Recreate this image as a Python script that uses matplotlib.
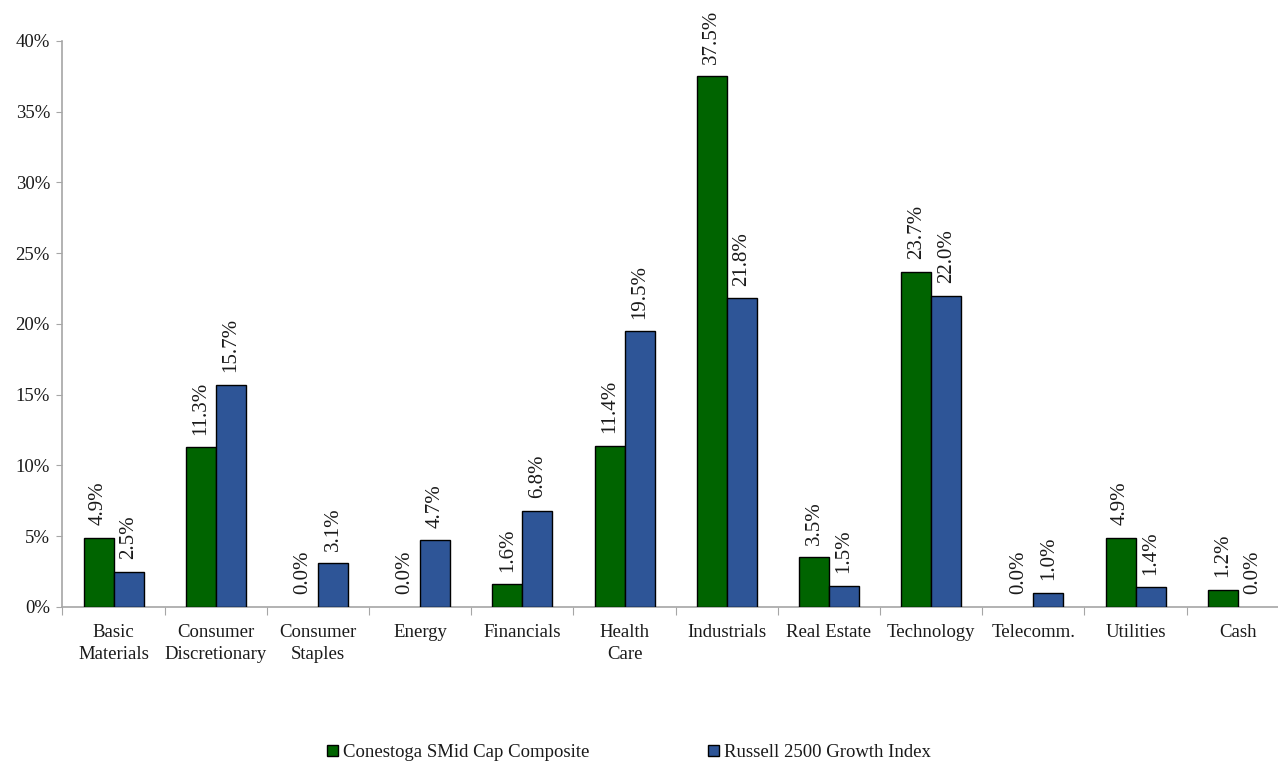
import numpy as np
import matplotlib.pyplot as plt
from matplotlib.patches import Patch

categories = ['Basic\nMaterials', 'Consumer\nDiscretionary', 'Consumer\nStaples', 'Energy',
              'Financials', 'Health\nCare', 'Industrials', 'Real Estate', 'Technology',
              'Telecomm.', 'Utilities', 'Cash']
conestoga = [4.9, 11.3, 0.0, 0.0, 1.6, 11.4, 37.5, 3.5, 23.7, 0.0, 4.9, 1.2]
russell = [2.5, 15.7, 3.1, 4.7, 6.8, 19.5, 21.8, 1.5, 22.0, 1.0, 1.4, 0.0]
series_names = ['Conestoga SMid Cap Composite', 'Russell 2500 Growth Index']
yticks = [0, 5, 10, 15, 20, 25, 30, 35, 40]

plt.rcParams['font.family'] = ['Liberation Serif', 'DejaVu Serif']
green = '#006400'
blue = '#2E5597'
axis_gray = '#A6A6A6'
txt = '#1a1a1a'

fig = plt.figure(figsize=(12.78, 7.61), dpi=100)
ax = fig.add_axes([0.0489, 0.2024, 0.9596, 0.7438])

x = np.arange(len(categories))
w = 0.294
series = [(conestoga, green, -w / 2), (russell, blue, w / 2)]
for vals, col, off in series:
    edges = ['black' if v > 0 else 'none' for v in vals]
    bars = ax.bar(x + off, vals, w, color=col, edgecolor=edges, linewidth=1, zorder=3)
    for rect, v in zip(bars, vals):
        ax.annotate(f'{v:.1f}%', (rect.get_x() + rect.get_width() / 2, v),
                    xytext=(0, 9), textcoords='offset points', rotation=90,
                    ha='center', va='bottom', fontsize=15, color=txt,
                    annotation_clip=False)

ax.set_xlim(-0.5, len(categories) - 0.5)
ax.set_ylim(0, 40)
ax.set_yticks(yticks)
ax.set_yticklabels([f'{t}%' for t in yticks], fontsize=13.5, color=txt)

ax.set_xticks(np.arange(len(categories) + 1) - 0.5)
ax.set_xticklabels([])
ax.set_xticks(x, minor=True)
ax.set_xticklabels(categories, minor=True, fontsize=13.5, color=txt, linespacing=1.45)
ax.tick_params(axis='x', which='major', length=6, direction='out', color=axis_gray)
ax.tick_params(axis='x', which='minor', length=0, pad=12)
ax.tick_params(axis='y', length=4, direction='out', color=axis_gray, pad=5)

for s in ('top', 'right'):
    ax.spines[s].set_visible(False)
for s in ('left', 'bottom'):
    ax.spines[s].set_color(axis_gray)
    ax.spines[s].set_linewidth(1.2)

handles = [Patch(facecolor=green, edgecolor='black', linewidth=1),
           Patch(facecolor=blue, edgecolor='black', linewidth=1)]
fig.legend(handles, series_names, loc='center', bbox_to_anchor=(0.492, 0.011),
           ncol=2, frameon=False, fontsize=13.5, handlelength=0.6, handleheight=0.6,
           handletextpad=0.25, columnspacing=6.3, labelcolor=txt)

fig.savefig('out.png', dpi=100)
